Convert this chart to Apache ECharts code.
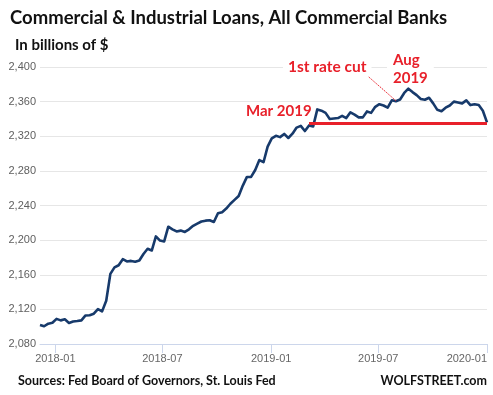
<!DOCTYPE html>
<html>
<head>
<meta charset="utf-8">
<style>
  html, body { margin: 0; padding: 0; background: #ffffff; }
  #chart { width: 493px; height: 395px; }
</style>
<script src="https://cdn.jsdelivr.net/npm/echarts@6/dist/echarts.min.js"></script>
</head>
<body>
<div id="chart"></div>
<script>
// Weekly dates (Wednesdays), H.8 data
const weekDates = [
  '2017-12-06','2017-12-13','2017-12-20','2017-12-27',
  '2018-01-03','2018-01-10','2018-01-17','2018-01-24','2018-01-31',
  '2018-02-07','2018-02-14','2018-02-21','2018-02-28',
  '2018-03-07','2018-03-14','2018-03-21','2018-03-28',
  '2018-04-04','2018-04-11','2018-04-18','2018-04-25',
  '2018-05-02','2018-05-09','2018-05-16','2018-05-23','2018-05-30',
  '2018-06-06','2018-06-13','2018-06-20','2018-06-27',
  '2018-07-04','2018-07-11','2018-07-18','2018-07-25',
  '2018-08-01','2018-08-08','2018-08-15','2018-08-22','2018-08-29',
  '2018-09-05','2018-09-12','2018-09-19','2018-09-26',
  '2018-10-03','2018-10-10','2018-10-17','2018-10-24','2018-10-31',
  '2018-11-07','2018-11-14','2018-11-21','2018-11-28',
  '2018-12-05','2018-12-12','2018-12-19','2018-12-26',
  '2019-01-02','2019-01-09','2019-01-16','2019-01-23','2019-01-30',
  '2019-02-06','2019-02-13','2019-02-20','2019-02-27',
  '2019-03-06','2019-03-13','2019-03-20','2019-03-27',
  '2019-04-03','2019-04-10','2019-04-17','2019-04-24',
  '2019-05-01','2019-05-08','2019-05-15','2019-05-22','2019-05-29',
  '2019-06-05','2019-06-12','2019-06-19','2019-06-26',
  '2019-07-03','2019-07-10','2019-07-17','2019-07-24','2019-07-31',
  '2019-08-07','2019-08-14','2019-08-21','2019-08-28',
  '2019-09-04','2019-09-11','2019-09-18','2019-09-25',
  '2019-10-02','2019-10-09','2019-10-16','2019-10-23','2019-10-30',
  '2019-11-06','2019-11-13','2019-11-20','2019-11-27',
  '2019-12-04','2019-12-11','2019-12-18','2019-12-25',
  '2020-01-01'
];

// C&I loans, billions of $
const loanValues = [
  2102, 2100.5, 2103.5, 2104.5,
  2109, 2107.3, 2108.5, 2104.3, 2106,
  2106.5, 2107.3, 2113, 2113.3,
  2115, 2120.4, 2117.7, 2130,
  2161, 2168.5, 2171, 2178,
  2175.4, 2176, 2175, 2176.4, 2184,
  2190, 2188, 2204.3, 2199.5,
  2198.5, 2215.5, 2212.5, 2210,
  2211, 2209.5, 2212.5, 2216.5, 2219,
  2221.5, 2222.5, 2223, 2221,
  2231, 2232.3, 2236.5, 2242, 2246.5,
  2251, 2263, 2273, 2273,
  2281, 2292.5, 2290, 2308,
  2317.5, 2320.5, 2319, 2322.7, 2318,
  2323, 2330, 2332, 2326,
  2332.5, 2331.4, 2351, 2349.5,
  2347, 2340, 2340.5, 2341,
  2343.5, 2341, 2347.6, 2345, 2341.8,
  2341.8, 2348.7, 2347, 2354,
  2357, 2355.5, 2353, 2361.5, 2360.5,
  2362.5, 2370, 2375, 2371,
  2367.5, 2363, 2362.2, 2364.5,
  2358, 2350.5, 2349, 2353, 2355.5,
  2360, 2359, 2358, 2361.5,
  2356, 2357, 2356, 2349.5,
  2336
];

// Axis ticks
const xTickDates = ['2018-01-01', '2018-07-01', '2019-01-01', '2019-07-01', '2020-01-01'];
const yTickValues = [2080, 2120, 2160, 2200, 2240, 2280, 2320, 2360, 2400];

// Annotation anchors
const marchLevelLine = { start: '2019-03-06', end: '2020-01-01', value: 2334.5 };
const rateCutPointer = { fromDate: '2019-06-15', fromValue: 2388.5, toDate: '2019-07-31', toValue: 2361 };

const ts = s => echarts.number.parseDate(s).getTime();
const seriesData = weekDates.map((d, i) => [ts(d), loanValues[i]]);
const fmtMonth = v => {
  const d = new Date(v + 12 * 3600 * 1000);
  return d.getFullYear() + '-' + String(d.getMonth() + 1).padStart(2, '0');
};

const chart = echarts.init(document.getElementById('chart'), null, { renderer: 'canvas' });

const RED = '#e8202a';
const NAVY = '#173a6b';

const option = {
  animation: false,
  backgroundColor: '#ffffff',
  grid: { left: 40, right: 6, top: 67, bottom: 51, containLabel: false },
  xAxis: {
    type: 'value',
    min: ts(weekDates[0]),
    max: ts(weekDates[weekDates.length - 1]),
    axisLine: { show: true, lineStyle: { color: '#ccd6eb', width: 1 } },
    axisTick: { show: true, length: 9, lineStyle: { color: '#ccd6eb' }, customValues: xTickDates.map(ts) },
    axisLabel: {
      customValues: xTickDates.map(ts),
      formatter: fmtMonth,
      color: '#666666', fontFamily: 'Liberation Sans', fontSize: 11, margin: 9,
      showMinLabel: true, showMaxLabel: true, alignMaxLabel: 'right'
    },
    splitLine: { show: false }
  },
  yAxis: {
    type: 'value',
    min: yTickValues[0],
    max: yTickValues[yTickValues.length - 1],
    interval: 40,
    axisLine: { show: false },
    axisTick: { show: false },
    axisLabel: {
      formatter: v => v.toLocaleString('en-US'),
      color: '#606060', fontFamily: 'Liberation Sans', fontSize: 11, margin: 4
    },
    splitLine: { show: true, lineStyle: { color: '#e6e6e6', width: 1 } }
  },
  series: [{
    type: 'line',
    data: seriesData,
    showSymbol: false,
    symbol: 'none',
    lineStyle: { color: NAVY, width: 2.6, join: 'round' },
    z: 3,
    markLine: {
      silent: true,
      symbol: ['none', 'none'],
      label: { show: false },
      animation: false,
      data: [
        [
          { coord: [ts(marchLevelLine.start), marchLevelLine.value], lineStyle: { color: RED, width: 3, type: 'solid' } },
          { coord: [ts(marchLevelLine.end), marchLevelLine.value] }
        ],
        [
          { coord: [ts(rateCutPointer.fromDate), rateCutPointer.fromValue], lineStyle: { color: RED, width: 1, type: [1.5, 1], opacity: 1 } },
          { coord: [ts(rateCutPointer.toDate), rateCutPointer.toValue] }
        ]
      ]
    }
  }],
  graphic: [
    { type: 'text', left: 10, top: 9, style: { text: 'Commercial & Industrial Loans, All Commercial Banks', font: 'bold 18.5px Lato', fill: '#111111' } },
    { type: 'text', left: 15, top: 38, style: { text: 'In billions of $', font: 'bold 15px Lato', fill: '#111111' } },
    { type: 'text', left: 18, top: 374, style: { text: 'Sources: Fed Board of Governors, St. Louis Fed', font: 'bold 12.5px Lato', fill: '#111111' } },
    { type: 'text', right: 6, top: 374, style: { text: 'WOLFSTREET.com', font: 'bold 12.5px Lato', fill: '#111111' } },
    { type: 'text', left: 246, top: 104, z: 10, style: { text: 'Mar 2019', font: 'bold 15px Lato', fill: RED } },
    { type: 'text', left: 283, top: 59, z: 10, style: { text: '1st rate cut', font: 'bold 15.5px Lato', fill: RED, backgroundColor: '#ffffff', padding: [0, 5, 0, 5] } },
    { type: 'text', left: 387, top: 51, z: 10, style: { text: 'Aug\n2019', font: 'bold 15px Lato', fill: RED, lineHeight: 18, align: 'left', backgroundColor: '#ffffff', padding: [0, 6, 0, 6] } }
  ]
};

chart.setOption(option);
</script>
</body>
</html>
